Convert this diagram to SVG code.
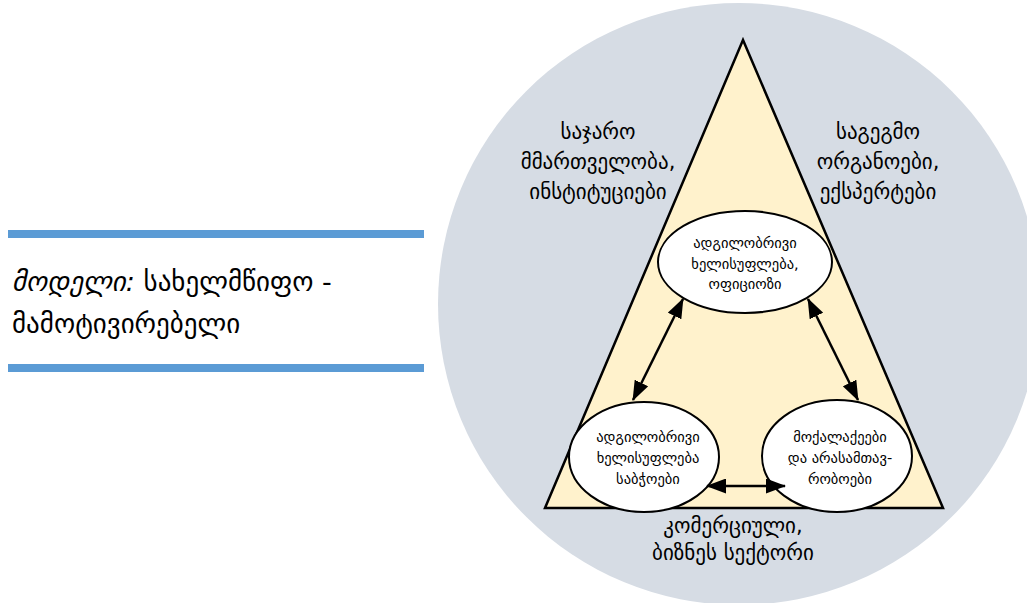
<svg xmlns="http://www.w3.org/2000/svg" width="1027" height="603" viewBox="0 0 1027 603">
<defs>
<style>
text{font-family:"DejaVu Sans","Noto Sans",sans-serif;fill:#000;text-anchor:middle}
.big{font-size:21px}
.small{font-size:14.5px}
.title{font-size:27px;text-anchor:start}
.node{fill:#fff;stroke:#000;stroke-width:2}
.conn{stroke:#000;stroke-width:2.5;fill:none;marker-start:url(#ah);marker-end:url(#ah)}
</style>
<marker id="ah" viewBox="0 0 20 15" refX="19" refY="7.5" markerWidth="20" markerHeight="15" orient="auto-start-reverse" markerUnits="userSpaceOnUse">
<path d="M0,0 L20,7.5 L0,15 z" fill="#000"/>
</marker>
</defs>
<rect width="1027" height="603" fill="#fff"/>
<g id="bars">
<rect x="8" y="230" width="416" height="8" fill="#5B9BD5"/>
<rect x="8" y="364" width="416" height="8" fill="#5B9BD5"/>
</g>
<g id="title">
<text class="title" x="12" y="291"><tspan font-style="italic">მოდელი:</tspan> სახელმწიფო -</text>
<text class="title" x="12" y="333">მამოტივირებელი</text>
</g>
<g id="background">
<circle cx="739" cy="304" r="301" fill="#D6DCE4"/>
<polygon points="743,40 545,508 943,508" fill="#FFF2CC" stroke="#000" stroke-width="2.5" stroke-linejoin="miter"/>
</g>
<g id="labels">
<text class="big" x="598" y="139">საჯარო</text>
<text class="big" x="598" y="169">მმართველობა,</text>
<text class="big" x="598" y="199">ინსტიტუციები</text>
<text class="big" x="878" y="139">საგეგმო</text>
<text class="big" x="878" y="169">ორგანოები,</text>
<text class="big" x="878" y="199">ექსპერტები</text>
<text class="big" x="733" y="533">კომერციული,</text>
<text class="big" x="733" y="560">ბიზნეს სექტორი</text>
</g>
<g id="node-top">
<ellipse class="node" cx="745" cy="262" rx="87" ry="51"/>
<text class="small" x="745" y="248">ადგილობრივი</text>
<text class="small" x="745" y="269">ხელისუფლება,</text>
<text class="small" x="745" y="289">ოფიციოზი</text>
</g>
<g id="node-left">
<ellipse class="node" cx="644" cy="457" rx="75" ry="55"/>
<text class="small" x="648" y="442">ადგილობრივი</text>
<text class="small" x="648" y="463">ხელისუფლება</text>
<text class="small" x="648" y="484">საბჭოები</text>
</g>
<g id="node-right">
<ellipse class="node" cx="837" cy="456" rx="75" ry="56"/>
<text class="small" x="840" y="442">მოქალაქეები</text>
<text class="small" x="840" y="463">და არასამთავ-</text>
<text class="small" x="840" y="484">რობოები</text>
</g>
<g id="connectors">
<line class="conn" x1="683" y1="299" x2="633" y2="400"/>
<line class="conn" x1="808" y1="299" x2="858" y2="400"/>
<line class="conn" x1="707" y1="486" x2="785" y2="486"/>
</g>
</svg>
